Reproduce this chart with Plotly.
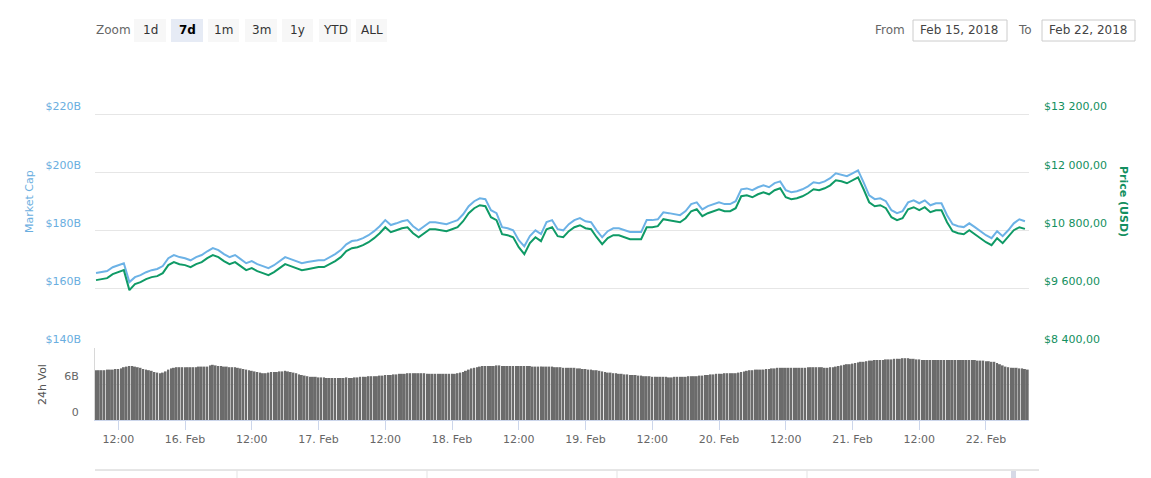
import plotly.graph_objects as go
import pandas as pd

W, H = 1151, 478


def px(x):
    return x / W


def py(y):
    return 1 - y / H


# ---------------- data ----------------
market_cap_b = [
    165.4, 165.7, 166.1, 167.4, 168.1, 168.8, 162.3, 164.0, 164.7, 165.7,
    166.4, 166.8, 167.8, 170.5, 171.6, 170.9, 170.5, 169.8, 170.9, 171.6,
    172.9, 174.0, 173.3, 171.9, 170.9, 171.6, 170.2, 168.8, 169.5, 168.5,
    167.8, 167.1, 168.1, 169.5, 170.9, 170.2, 169.5, 168.8, 169.2, 169.5,
    169.8, 169.8, 170.9, 171.9, 173.3, 175.3, 176.4, 176.7, 177.4, 178.4,
    179.8, 181.5, 183.6, 181.9, 182.5, 183.2, 183.6, 181.5, 180.1, 181.5,
    182.9, 182.9, 182.5, 182.2, 182.9, 183.6, 185.6, 188.4, 190.1, 191.1,
    190.8, 187.0, 186.0, 181.2, 180.8, 180.1, 176.7, 174.6, 178.1, 180.1,
    178.8, 182.9, 183.6, 180.5, 180.1, 182.2, 183.6, 184.3, 183.2, 182.9,
    180.1, 177.7, 179.8, 180.8, 180.8, 180.1, 179.5, 179.5, 179.5, 183.6,
    183.6, 183.9, 186.3, 186.0, 185.6, 185.3, 186.7, 189.1, 189.7, 187.3,
    188.4, 189.1, 189.7, 189.1, 189.1, 190.1, 194.2, 194.5, 193.9, 194.9,
    195.6, 194.9, 196.3, 196.9, 193.9, 193.2, 193.5, 194.2, 195.2, 196.6,
    196.3, 196.9, 198.0, 199.7, 199.3, 198.7, 199.7, 200.7, 196.6, 192.1,
    190.8, 191.1, 190.1, 187.0, 186.0, 186.7, 189.7, 190.4, 189.4, 190.4,
    188.7, 189.4, 189.4, 185.3, 182.2, 181.5, 181.2, 182.5, 181.2, 179.8,
    178.4, 177.4, 179.8, 178.1, 180.1, 182.5, 183.9, 183.2,
]

price_usd = [
    9779, 9800, 9820, 9903, 9944, 9985, 9573, 9697, 9738, 9800,
    9841, 9861, 9923, 10088, 10150, 10108, 10088, 10047, 10108, 10150,
    10232, 10294, 10252, 10170, 10108, 10150, 10067, 9985, 10026, 9964,
    9923, 9882, 9944, 10026, 10108, 10067, 10026, 9985, 10005, 10026,
    10047, 10047, 10108, 10170, 10252, 10376, 10438, 10458, 10499, 10561,
    10644, 10746, 10870, 10767, 10808, 10849, 10870, 10746, 10664, 10746,
    10829, 10829, 10808, 10788, 10829, 10870, 10993, 11158, 11261, 11323,
    11302, 11076, 11014, 10726, 10705, 10664, 10458, 10314, 10541, 10664,
    10582, 10829, 10870, 10685, 10664, 10788, 10870, 10911, 10849, 10829,
    10664, 10520, 10644, 10705, 10705, 10664, 10623, 10623, 10623, 10870,
    10870, 10891, 11035, 11014, 10993, 10973, 11055, 11199, 11240, 11096,
    11158, 11199, 11240, 11199, 11199, 11261, 11508, 11529, 11487, 11549,
    11590, 11549, 11632, 11673, 11487, 11446, 11467, 11508, 11570, 11652,
    11632, 11673, 11734, 11837, 11817, 11776, 11837, 11899, 11652, 11385,
    11302, 11323, 11261, 11076, 11014, 11055, 11240, 11282, 11220, 11282,
    11179, 11220, 11220, 10973, 10788, 10746, 10726, 10808, 10726, 10644,
    10561, 10499, 10644, 10541, 10664, 10808, 10870, 10835,
]

volume_b = [
    8.3, 8.3, 8.3, 8.3, 8.4, 8.4, 8.4, 8.5, 8.5, 8.6, 8.8, 8.9, 9.0, 9.0,
    8.9, 8.8, 8.7, 8.5, 8.4, 8.3, 8.2, 8.0, 7.9, 7.8, 7.9, 8.1, 8.4, 8.6,
    8.7, 8.8, 8.8, 8.8, 8.8, 8.8, 8.8, 8.8, 8.8, 8.9, 8.9, 8.9, 8.9,
    9.1, 9.2, 9.1, 9.0, 9.0, 8.9, 8.9, 8.8, 8.8, 8.8,
    8.7, 8.6, 8.5, 8.4, 8.3, 8.2, 8.1, 8.0, 7.9, 7.8,
    7.8, 7.9, 8.0, 8.0, 8.0, 8.1, 8.1, 8.2, 8.1, 8.0, 7.9,
    7.8, 7.6, 7.5, 7.4, 7.3, 7.2, 7.2, 7.2, 7.1, 7.1, 7.1, 7.0, 7.0, 7.0,
    7.0, 7.0, 7.0, 7.0, 7.1, 7.0, 7.0, 7.1, 7.1, 7.2,
    7.2, 7.2, 7.3, 7.3, 7.3, 7.3, 7.4, 7.4, 7.5, 7.5,
    7.5, 7.6, 7.6, 7.7, 7.7, 7.7, 7.8, 7.8, 7.8, 7.8,
    7.8, 7.8, 7.8, 7.7, 7.7, 7.7, 7.7, 7.7, 7.7, 7.7,
    7.7, 7.7, 7.7, 7.7, 7.8, 7.9, 8.0,
    8.2, 8.4, 8.6, 8.7, 8.8, 8.9,
    9.0, 9.0, 9.0, 9.0, 9.0, 9.1, 9.1, 9.0, 9.0, 9.0, 9.0, 9.0,
    9.0, 9.0, 9.0, 9.0, 9.0, 9.0, 8.9, 8.9, 8.9, 8.9, 8.9, 8.9, 8.9, 8.9, 8.8,
    8.8, 8.8, 8.7, 8.7, 8.7, 8.7, 8.7, 8.6, 8.6, 8.5,
    8.5, 8.4, 8.4, 8.3, 8.3, 8.2, 8.1, 8.0, 7.9, 7.9,
    7.8, 7.8, 7.7, 7.7, 7.6, 7.6, 7.5, 7.5, 7.5, 7.4,
    7.4, 7.3, 7.3, 7.3, 7.2, 7.2, 7.2, 7.2, 7.2, 7.2, 7.1, 7.1, 7.2, 7.2, 7.2,
    7.2, 7.2, 7.3, 7.3, 7.3, 7.3, 7.4, 7.4, 7.5, 7.5,
    7.6, 7.6, 7.7, 7.7, 7.7, 7.8, 7.8, 7.8, 7.8, 7.8,
    7.9, 8.0, 8.1, 8.2, 8.3, 8.3, 8.4, 8.4, 8.4, 8.4,
    8.5, 8.5, 8.6, 8.6, 8.7, 8.7, 8.7, 8.7, 8.7, 8.7,
    8.7, 8.7, 8.7, 8.7, 8.7, 8.8, 8.8, 8.8, 8.8, 8.8,
    8.8, 8.7, 8.7, 8.8, 8.8, 8.9, 9.0, 9.1, 9.2, 9.3,
    9.3, 9.4, 9.5, 9.6, 9.7, 9.7, 9.8, 9.9, 9.9, 10.0,
    10.0, 10.0, 10.0, 10.1, 10.1, 10.1, 10.2, 10.2, 10.2, 10.3,
    10.3, 10.3, 10.2, 10.2, 10.1, 10.1, 10.0, 10.0, 10.0, 10.0,
    10.0, 10.0, 10.0, 10.0, 10.0, 10.0, 10.0, 10.0, 10.0, 10.0,
    10.0, 10.0, 10.0, 10.0, 10.0, 10.0, 9.9, 9.9, 9.9, 9.8,
    9.8, 9.7, 9.7, 9.5, 9.3, 9.1, 8.9,
    8.8, 8.7, 8.7, 8.7, 8.6, 8.6, 8.5, 8.4,
]

line_times = pd.date_range("2018-02-15 08:00", periods=len(market_cap_b), freq="h")
vol_times = pd.date_range("2018-02-15 08:00", periods=len(volume_b), freq="30min")

mcap_ticks = [140, 160, 180, 200, 220, 240]
mcap_ticktext = ["$140B", "$160B", "$180B", "$200B", "$220B", ""]
price_ticks = [8400, 9600, 10800, 12000, 13200]
price_ticktext = ["$8 400,00", "$9 600,00", "$10 800,00", "$12 000,00", "$13 200,00"]
vol_ticks = [0, 6]
vol_ticktext = ["0", "6B"]
x_ticks = ["2018-02-15 12:00", "2018-02-16 00:00", "2018-02-16 12:00", "2018-02-17 00:00",
           "2018-02-17 12:00", "2018-02-18 00:00", "2018-02-18 12:00", "2018-02-19 00:00",
           "2018-02-19 12:00", "2018-02-20 00:00", "2018-02-20 12:00", "2018-02-21 00:00",
           "2018-02-21 12:00", "2018-02-22 00:00"]
x_ticktext = ["12:00", "16. Feb", "12:00", "17. Feb", "12:00", "18. Feb", "12:00",
              "19. Feb", "12:00", "20. Feb", "12:00", "21. Feb", "12:00", "22. Feb"]

BLUE = "#6cb2e6"
BLUE_TXT = "#6aaee0"
GREEN = "#0f9a66"
GREEN_TXT = "#138f60"
GRAY_TXT = "#666666"
FONT = "Verdana, DejaVu Sans, sans-serif"

fig = go.Figure()
fig.add_trace(go.Scatter(x=line_times, y=market_cap_b, mode="lines", yaxis="y",
                         line=dict(color=BLUE, width=2), name="Market Cap"))
fig.add_trace(go.Scatter(x=line_times, y=price_usd, mode="lines", yaxis="y2",
                         line=dict(color=GREEN, width=2), name="Price (USD)"))
fig.add_trace(go.Bar(x=vol_times, y=volume_b, yaxis="y3", name="24h Vol",
                     marker=dict(color="#6b6b6b", line=dict(width=0))))

shapes = []
annotations = []

# Range selector buttons (decorative)
buttons = [("1d", 134, 166, False), ("7d", 171, 203, True), ("1m", 208, 239, False),
           ("3m", 245, 277, False), ("1y", 282, 313, False), ("YTD", 319, 351, False),
           ("ALL", 356, 387, False)]
for label, x0, x1, sel in buttons:
    shapes.append(dict(type="rect", xref="paper", yref="paper",
                       x0=px(x0), x1=px(x1), y0=py(42), y1=py(19),
                       fillcolor="#e6ebf5" if sel else "#f7f7f7", line=dict(width=0)))
    annotations.append(dict(xref="paper", yref="paper", x=px((x0 + x1) / 2), y=py(30.5),
                            text=f"<b>{label}</b>" if sel else label, showarrow=False,
                            xanchor="center", yanchor="middle",
                            font=dict(family=FONT, size=12, color="#000000" if sel else "#333333")))
annotations.append(dict(xref="paper", yref="paper", x=px(113), y=py(30.5), text="Zoom",
                        showarrow=False, xanchor="center", yanchor="middle",
                        font=dict(family=FONT, size=12, color=GRAY_TXT)))

# Date inputs (decorative)
for label, lx, text, bx0, bx1 in [("From", 890, "Feb 15, 2018", 913, 1007),
                                  ("To", 1025, "Feb 22, 2018", 1042, 1135)]:
    shapes.append(dict(type="rect", xref="paper", yref="paper",
                       x0=px(bx0), x1=px(bx1), y0=py(41), y1=py(20),
                       fillcolor="white", line=dict(color="#cccccc", width=1)))
    annotations.append(dict(xref="paper", yref="paper", x=px(lx), y=py(30.5), text=label,
                            showarrow=False, xanchor="center", yanchor="middle",
                            font=dict(family=FONT, size=12, color=GRAY_TXT)))
    annotations.append(dict(xref="paper", yref="paper", x=px((bx0 + bx1) / 2), y=py(30.5),
                            text=text, showarrow=False, xanchor="center", yanchor="middle",
                            font=dict(family=FONT, size=12, color="#444444")))

# Axis titles
annotations.append(dict(xref="paper", yref="paper", x=px(30), y=py(201), text="Market Cap",
                        textangle=-90, showarrow=False, xanchor="center", yanchor="middle",
                        font=dict(family=FONT, size=11, color=BLUE_TXT)))
annotations.append(dict(xref="paper", yref="paper", x=px(1123), y=py(201),
                        text="<b>Price (USD)</b>", textangle=90, showarrow=False,
                        xanchor="center", yanchor="middle",
                        font=dict(family=FONT, size=11, color=GREEN_TXT)))
annotations.append(dict(xref="paper", yref="paper", x=px(42), y=py(385), text="24h Vol",
                        textangle=-90, showarrow=False, xanchor="center", yanchor="middle",
                        font=dict(family=FONT, size=11, color="#555555")))

# Navigator strip at the bottom (decorative)
shapes.append(dict(type="line", xref="paper", yref="paper", x0=px(95), x1=px(1039),
                   y0=py(470), y1=py(470), line=dict(color="#cccccc", width=1)))
for vx in [237, 427, 617, 807]:
    shapes.append(dict(type="line", xref="paper", yref="paper", x0=px(vx), x1=px(vx),
                       y0=py(470), y1=py(478), line=dict(color="#e3e3e3", width=1)))
shapes.append(dict(type="rect", xref="paper", yref="paper", x0=px(1011), x1=px(1016),
                   y0=py(478), y1=py(471), fillcolor="#d6d9e6", line=dict(width=0)))

fig.update_layout(
    width=W, height=H,
    margin=dict(l=0, r=0, t=0, b=0),
    paper_bgcolor="white", plot_bgcolor="white",
    showlegend=False, bargap=0.3,
    font=dict(family=FONT, size=11, color=GRAY_TXT),
    xaxis=dict(domain=[px(95), px(1029)], type="date",
               range=["2018-02-15 07:49", "2018-02-22 07:44"],
               anchor="y3", tickvals=x_ticks, ticktext=x_ticktext,
               showgrid=False, showline=True, linecolor="#ccd6eb", linewidth=1,
               ticks="outside", ticklen=9, tickcolor="#ccd6eb",
               tickfont=dict(family=FONT, size=11, color=GRAY_TXT), automargin=False),
    yaxis=dict(domain=[py(347), py(56)], range=[140, 240], anchor="x",
               tickvals=mcap_ticks, ticktext=mcap_ticktext,
               showgrid=True, gridcolor="#e6e6e6", gridwidth=1, zeroline=False,
               ticklabelposition="outside top", ticklabelstandoff=13,
               tickfont=dict(family=FONT, size=11, color=BLUE_TXT), automargin=False),
    yaxis2=dict(overlaying="y", side="right", range=[8400, 14400], anchor="x",
                tickvals=price_ticks, ticktext=price_ticktext,
                showgrid=False, zeroline=False,
                ticklabelposition="outside top", ticklabelstandoff=14,
                tickfont=dict(family=FONT, size=11, color=GREEN_TXT), automargin=False),
    yaxis3=dict(domain=[py(420), py(348)], range=[0, 12], anchor="x",
                tickvals=vol_ticks, ticktext=vol_ticktext,
                showgrid=True, gridcolor="#e6e6e6", zeroline=False,
                showline=True, linecolor="#d8d8d8", linewidth=1,
                ticklabelposition="outside top", ticklabelstandoff=13,
                tickfont=dict(family=FONT, size=11, color=GRAY_TXT), automargin=False),
    shapes=shapes,
    annotations=annotations,
)

fig.write_html("out.html", config={"displayModeBar": False},
               post_script="document.body.style.margin='0';")
